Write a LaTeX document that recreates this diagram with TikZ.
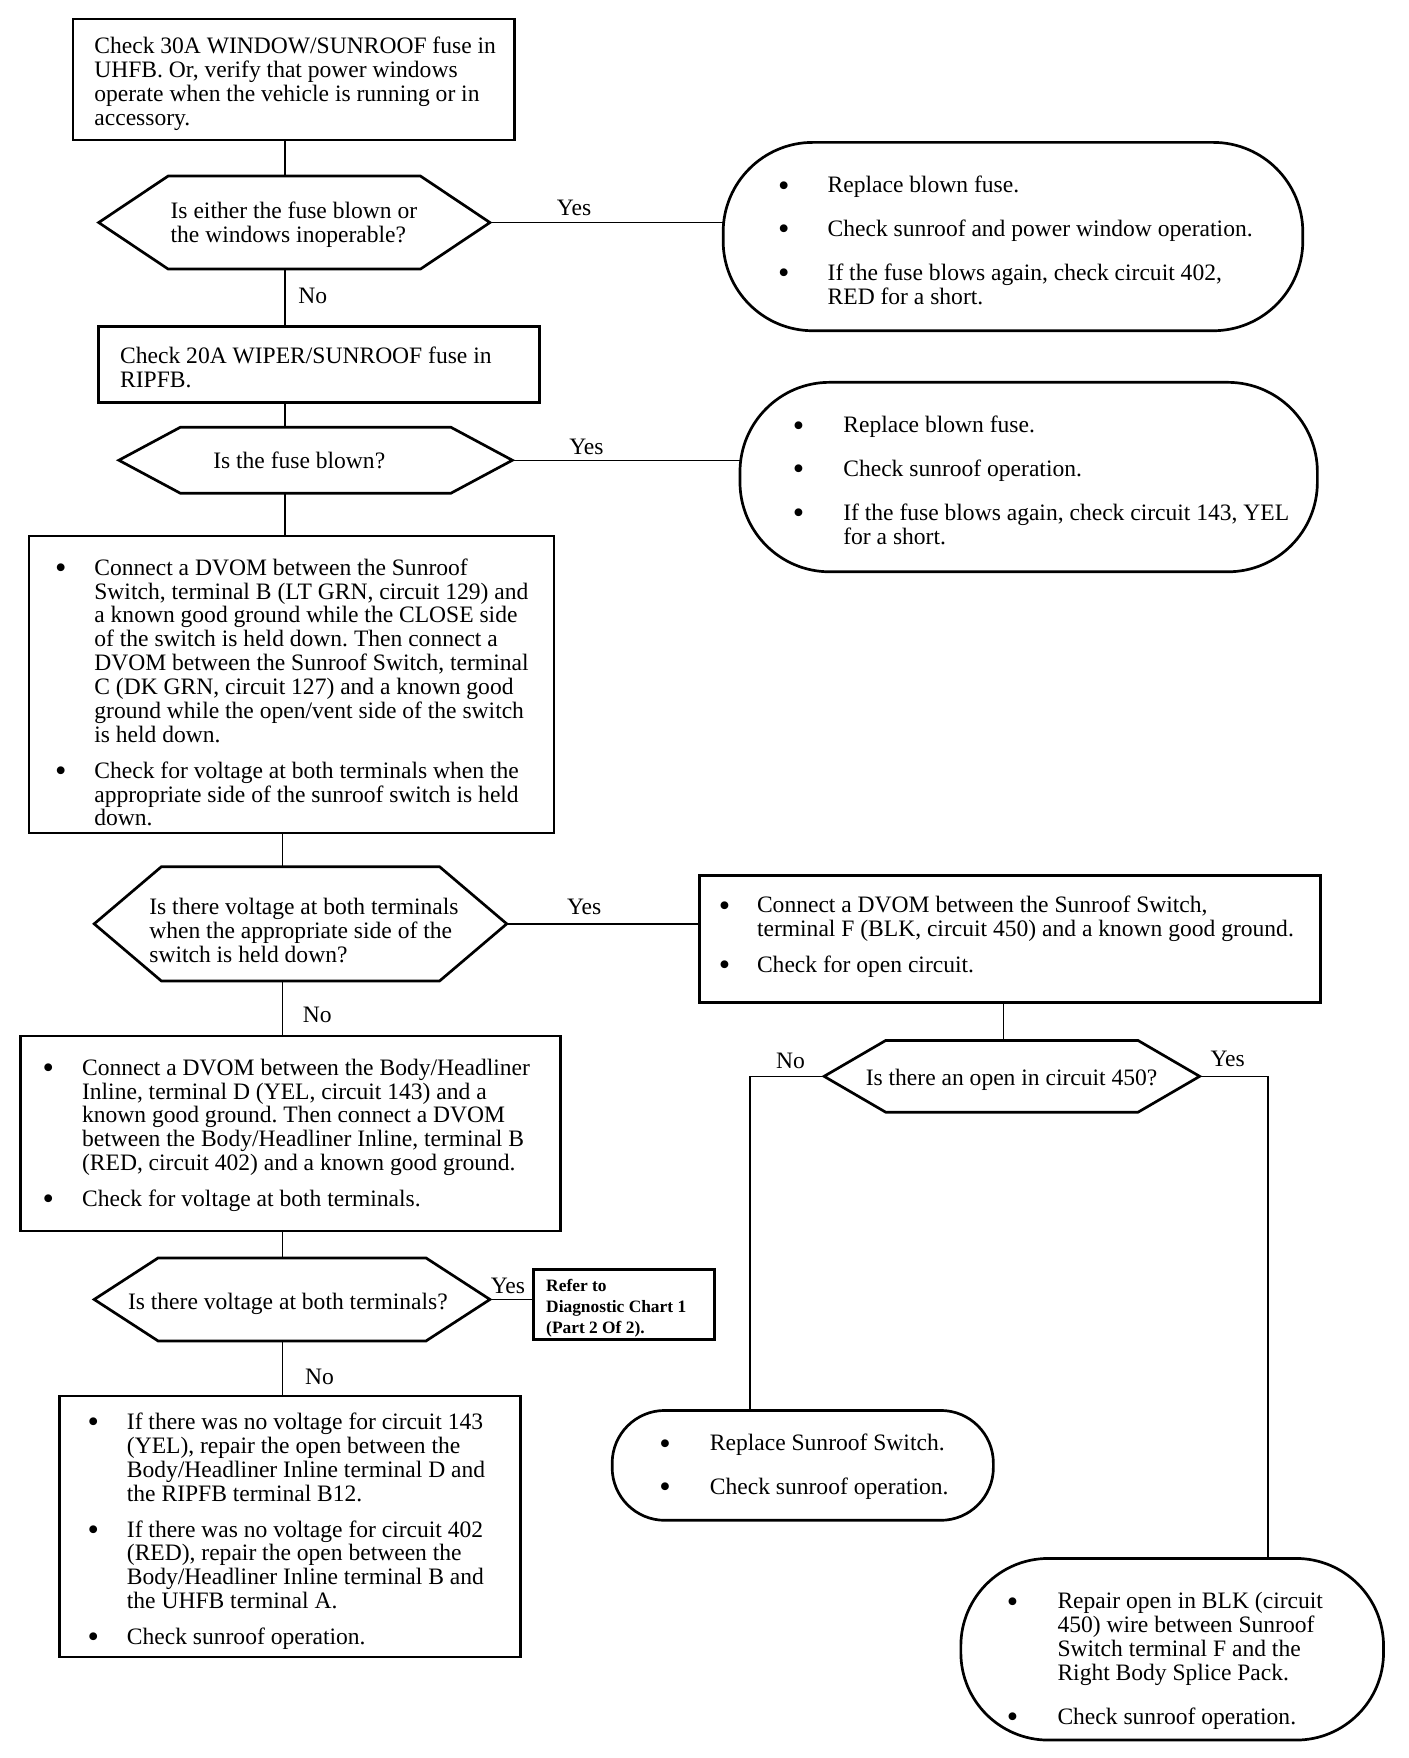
\documentclass[tikz,border=0pt]{standalone}
\usepackage{fontspec}
\setmainfont{Liberation Serif}
\usepackage{graphicx}
\frenchspacing
\newcommand\bdot{\raisebox{-3pt}{\fontsize{29}{29}\selectfont\textbullet}}
\newcommand\bu[1]{\makebox[#1][l]{\makebox[0pt]{\bdot}}}
\newcommand\hexdraw[2]{\draw[hexline] (#1.west) -- ([xshift=#2]#1.north west) -- ([xshift=-#2]#1.north east) -- (#1.east) -- ([xshift=-#2]#1.south east) -- ([xshift=#2]#1.south west) -- cycle;}
\begin{document}
\frenchspacing
\begin{tikzpicture}[x=1pt,y=1pt,
  box/.style={draw, line width=2.4pt, inner sep=0pt, outer sep=0pt, anchor=north west},
  capsule/.style={draw, line width=2.4pt, inner sep=0pt, outer sep=0pt, anchor=north west, rounded corners=#1},
  bb/.style={inner sep=0pt, outer sep=0pt, anchor=north west},
  hexline/.style={line width=2.4pt, line join=miter},
  txt/.style={inner sep=0pt, anchor=base west, yshift=-3pt, font=\fontsize{21}{21.3}\selectfont\frenchspacing},
  btxt/.style={inner sep=0pt, anchor=base west, yshift=-1pt, font=\fontsize{15.5}{18.5}\selectfont\bfseries},
  lbl/.style={inner sep=0pt, anchor=base, yshift=-3pt, font=\fontsize{21}{21.3}\selectfont},
  conn/.style={line width=1.3pt}]
\useasboundingbox (0,0) rectangle (1256,-1568);
\fill[white] (0,0) rectangle (1256,-1568);

% shapes
\node[box, minimum width=394pt, minimum height=108pt] (b1) at (65,-17) {};
\node[bb, minimum width=349pt, minimum height=83pt] (h1) at (88,-157) {};
\node[capsule=80pt, minimum width=517pt, minimum height=168pt] (c1) at (645,-127) {};
\node[box, minimum width=393pt, minimum height=68pt] (b2) at (88,-291) {};
\node[bb, minimum width=351pt, minimum height=59pt] (h2) at (106,-381) {};
\node[capsule=80pt, minimum width=515pt, minimum height=169pt] (c2) at (660,-341) {};
\node[box, minimum width=468pt, minimum height=265pt] (b3) at (26,-478) {};
\node[bb, minimum width=368pt, minimum height=102pt] (h3) at (84,-773) {};
\node[box, minimum width=554pt, minimum height=113pt] (b4) at (624,-781) {};
\node[bb, minimum width=335pt, minimum height=64pt] (h4) at (735,-928) {};
\node[box, minimum width=482pt, minimum height=174pt] (b5) at (18,-924) {};
\node[bb, minimum width=353pt, minimum height=74pt] (h5) at (84,-1122) {};
\node[box, minimum width=161pt, minimum height=63pt] (b6) at (476,-1132) {};
\node[box, minimum width=411pt, minimum height=233pt] (b7) at (53,-1245) {};
\node[capsule=47pt, minimum width=340pt, minimum height=98pt] (c3) at (546,-1258) {};
\node[capsule=78pt, minimum width=377pt, minimum height=162pt] (c4) at (857,-1390) {};

\hexdraw{h1}{62pt}
\hexdraw{h2}{55pt}
\hexdraw{h3}{60pt}
\hexdraw{h4}{55pt}
\hexdraw{h5}{57pt}

% connectors
\coordinate (s1) at (254,0);
\coordinate (s2) at (252,0);
\coordinate (s3) at (895,0);
\coordinate (nlx) at (669,0);
\coordinate (ylx) at (1131,0);
\draw[conn] (b1.south -| s1) -- (h1.north -| s1);
\draw[conn] (h1.south -| s1) -- (b2.north -| s1);
\draw[conn] (b2.south -| s1) -- (h2.north -| s1);
\draw[conn] (h2.south -| s1) -- (b3.north -| s1);
\draw[conn] (b3.south -| s2) -- (h3.north -| s2);
\draw[conn] (h3.south -| s2) -- (b5.north -| s2);
\draw[conn] (b5.south -| s2) -- (h5.north -| s2);
\draw[conn] (h5.south -| s2) -- (b7.north -| s2);
\draw[conn] (h1.east) -- (h1.east -| c1.west);
\draw[conn] (h2.east) -- (h2.east -| c2.west);
\draw[conn] (h3.east) -- (h3.east -| b4.west);
\draw[conn] (h5.east) -- (h5.east -| b6.west);
\draw[conn] (b4.south -| s3) -- (h4.north -| s3);
\draw[conn] (h4.west) -- (h4.west -| nlx) -- (c3.north -| nlx);
\draw[conn] (h4.east) -- (h4.east -| ylx) -- (c4.north -| ylx);

% labels
\node[lbl] (y1) at (512,-189) {Yes};
\node[lbl] (n1) at (279,-268) {No};
\node[lbl] (y2) at (523,-402) {Yes};
\node[lbl] (y3) at (521,-813) {Yes};
\node[lbl] (n3) at (283,-909) {No};
\node[lbl] (n4) at (705,-950) {No};
\node[lbl] (y4) at (1095,-948) {Yes};
\node[lbl] (y5) at (453,-1151) {Yes};
\node[lbl] (n5) at (285,-1232) {No};

% texts
\node[txt] (t1) at (84,-45) {\begin{tabular}[t]{@{}l@{}}
Check 30A WINDOW/SUNROOF fuse in\\
UHFB. Or, verify that power windows\\
operate when the vehicle is running or in\\
accessory.\end{tabular}};

\node[txt] (th1) at (152,-192) {\begin{tabular}[t]{@{}l@{}}
Is either the fuse blown or\\
the windows inoperable?\end{tabular}};

\node[txt] (tc1) at (699,-169) {\begin{tabular}[t]{@{}l@{}l@{}}
\bu{39pt} & Replace blown fuse.\\[17.7pt]
\bu{39pt} & Check sunroof and power window operation.\\[17.7pt]
\bu{39pt} & If the fuse blows again, check circuit 402,\\
 & RED for a short.\end{tabular}};

\node[txt] (t2) at (107,-321) {\begin{tabular}[t]{@{}l@{}}
Check 20A WIPER/SUNROOF fuse in\\
RIPFB.\end{tabular}};

\node[txt] (th2) at (190,-415) {Is the fuse blown?};

\node[txt] (tc2) at (712,-383) {\begin{tabular}[t]{@{}l@{}l@{}}
\bu{40pt} & Replace blown fuse.\\[17.7pt]
\bu{40pt} & Check sunroof operation.\\[17.7pt]
\bu{40pt} & If the fuse blows again, check circuit 143, YEL\\
 & for a short.\end{tabular}};

\node[txt] (t3) at (54,-510) {\begin{tabular}[t]{@{}l@{}l@{}}
\bu{30pt} & Connect a DVOM between the Sunroof\\
 & Switch, terminal B (LT GRN, circuit 129) and\\
 & a known good ground while the CLOSE side\\
 & of the switch is held down. Then connect a\\
 & DVOM between the Sunroof Switch, terminal\\
 & C (DK GRN, circuit 127) and a known good\\
 & ground while the open/vent side of the switch\\
 & is held down.\\[10.7pt]
\bu{30pt} & Check for voltage at both terminals when the\\
 & appropriate side of the sunroof switch is held\\
 & down.\end{tabular}};

\node[txt] (th3) at (133,-813) {\begin{tabular}[t]{@{}l@{}}
Is there voltage at both terminals\\
when the appropriate side of the\\
switch is held down?\end{tabular}};

\node[txt] (t4) at (646,-811) {\begin{tabular}[t]{@{}l@{}l@{}}
\bu{29pt} & Connect a DVOM between the Sunroof Switch,\\
 & terminal F (BLK, circuit 450) and a known good ground.\\[10.7pt]
\bu{29pt} & Check for open circuit.\end{tabular}};

\node[txt] (th4) at (772,-965) {Is there an open in circuit 450?};

\node[txt] (t5) at (43,-956) {\begin{tabular}[t]{@{}l@{}l@{}}
\bu{30pt} & Connect a DVOM between the Body/Headliner\\
 & Inline, terminal D (YEL, circuit 143) and a\\
 & known good ground. Then connect a DVOM\\
 & between the Body/Headliner Inline, terminal B\\
 & (RED, circuit 402) and a known good ground.\\[10.7pt]
\bu{30pt} & Check for voltage at both terminals.\end{tabular}};

\node[txt] (th5) at (114,-1165) {Is there voltage at both terminals?};

\node[btxt] (t6) at (487,-1151) {\begin{tabular}[t]{@{}l@{}}
Refer to\\
Diagnostic Chart 1\\
(Part 2 Of 2).\end{tabular}};

\node[txt] (t7) at (83,-1272) {\begin{tabular}[t]{@{}l@{}l@{}}
\bu{30pt} & If there was no voltage for circuit 143\\
 & (YEL), repair the open between the\\
 & Body/Headliner Inline terminal D and\\
 & the RIPFB terminal B12.\\[10.7pt]
\bu{30pt} & If there was no voltage for circuit 402\\
 & (RED), repair the open between the\\
 & Body/Headliner Inline terminal B and\\
 & the UHFB terminal A.\\[10.7pt]
\bu{30pt} & Check sunroof operation.\end{tabular}};

\node[txt] (tc3) at (593,-1291) {\begin{tabular}[t]{@{}l@{}l@{}}
\bu{40pt} & Replace Sunroof Switch.\\[17.7pt]
\bu{40pt} & Check sunroof operation.\end{tabular}};

\node[txt] (tc4) at (903,-1432) {\begin{tabular}[t]{@{}l@{}l@{}}
\bu{40pt} & Repair open in BLK (circuit\\
 & 450) wire between Sunroof\\
 & Switch terminal F and the\\
 & Right Body Splice Pack.\\[17.7pt]
\bu{40pt} & Check sunroof operation.\end{tabular}};
\end{tikzpicture}
\end{document}
